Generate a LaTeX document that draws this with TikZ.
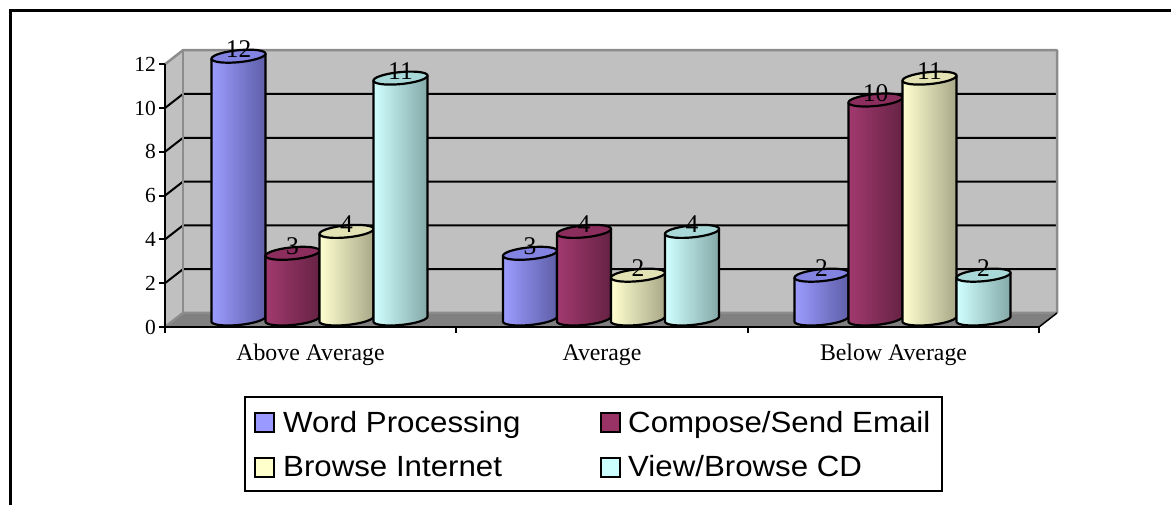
\documentclass[tikz,border=0pt]{standalone}
\usepackage{fontspec}
\setmainfont{Liberation Serif}
\newfontfamily\legendfont[FakeStretch=1.07]{Liberation Sans}
\definecolor{s1}{HTML}{9999FF}
\definecolor{s1L}{HTML}{9C9CFF}
\definecolor{s1R}{HTML}{5E5EA8}
\definecolor{s1T}{HTML}{8383E2}
\definecolor{s2}{HTML}{993366}
\definecolor{s2L}{HTML}{A23A6F}
\definecolor{s2R}{HTML}{662244}
\definecolor{s2T}{HTML}{8C2E5D}
\definecolor{s3}{HTML}{FFFFCC}
\definecolor{s3L}{HTML}{FFFFD0}
\definecolor{s3R}{HTML}{A8A888}
\definecolor{s3T}{HTML}{E2E2B4}
\definecolor{s4}{HTML}{CCFFFF}
\definecolor{s4L}{HTML}{D0FFFF}
\definecolor{s4R}{HTML}{84A8A8}
\definecolor{s4T}{HTML}{A8D8D8}
\definecolor{wallc}{HTML}{C0C0C0}
\definecolor{floorc}{HTML}{808080}
\definecolor{borderc}{HTML}{8C8C8C}
\tikzset{
  barline/.style={draw=black, line width=2.2pt, line join=round},
  gridline/.style={draw=black, line width=2pt},
  wallborder/.style={draw=borderc, line width=2.5pt, line join=round},
  axisline/.style={draw=black, line width=2pt},
  ticklabel/.style={anchor=east, inner sep=0pt, font=\fontsize{21.5}{24}\selectfont},
  catlabel/.style={anchor=base, inner sep=0pt, font=\fontsize{23.8}{28}\selectfont},
  vallabel/.style={anchor=base, inner sep=0pt, font=\fontsize{25.5}{28}\selectfont},
  legtext/.style={anchor=base west, inner sep=0pt, font=\legendfont\fontsize{29.2}{32}\selectfont},
  swatch/.style={draw=black, line width=2pt},
}
% #1 centre x, #2 value, #3 series colour prefix, #4 node name
\newcommand\cylbar[4]{%
  \pgfmathsetmacro\yt{319-#2*21.9}%
  \fill[left color=#3L, right color=#3R] (#1+27,\yt-2.5) -- (#1+27,316.5)
     -- plot[domain=0:180,samples=37,smooth,variable=\t] ({#1+27*cos(\t)},{319-2.5*cos(\t)+6*sin(\t)})
     -- (#1-27,\yt+2.5) -- cycle;
  \draw[barline] (#1+27,\yt-2.5) -- (#1+27,316.5)
     -- plot[domain=0:180,samples=37,smooth,variable=\t] ({#1+27*cos(\t)},{319-2.5*cos(\t)+6*sin(\t)})
     -- (#1-27,\yt+2.5);
  \filldraw[barline, fill=#3T] plot[domain=0:355,samples=72,smooth cycle,variable=\t] ({#1+27*cos(\t)},{\yt-2.5*cos(\t)+6*sin(\t)});
  \node[vallabel] (#4) at (#1,\yt+1.5) {#2};
}
\begin{document}
\begin{tikzpicture}[x=1pt,y=-1pt]
\useasboundingbox (0,0) rectangle (1171,505);
% outer frame
\draw[line width=3pt] (10,505) -- (10,11) -- (1170.5,11);
% walls
\fill[wallc] (183,50.2) rectangle (1057,313);
\fill[wallc] (165,64.2) -- (183,50.2) -- (183,313) -- (165,327) -- cycle;
% gridlines
\foreach \v in {2,4,...,10} {
  \draw[gridline] (165,{327-\v*21.9}) -- (183,{313-\v*21.9}) -- (1057,{313-\v*21.9});
}
% floor
\fill[floorc] (165,327) -- (183,313) -- (1057,313) -- (1039,327) -- cycle;
% wall borders
\draw[wallborder] (165,64.2) -- (183,50.2) -- (1057,50.2) -- (1057,313);
\draw[wallborder] (183,50.2) -- (183,313);
\draw[wallborder] (165,327) -- (183,313) -- (1057,313);
\draw[draw=black, line width=1.5pt] (1039,327) -- (1057,313);
% axes
\draw[axisline] (165,64.2) -- (165,327) -- (1039,327);
\foreach \v in {0,2,...,12} {
  \draw[axisline] (159,{327-\v*21.9}) -- (165,{327-\v*21.9});
  \node[ticklabel] (tick\v) at (156,{327-\v*21.9}) {\v};
}
\foreach \xx in {165,456.3,747.7,1039} {
  \draw[axisline] (\xx,327) -- (\xx,333);
}
% category labels
\node[catlabel] (catA) at (310.5,360) {Above Average};
\node[catlabel] (catB) at (602,360) {Average};
\node[catlabel] (catC) at (893.5,360) {Below Average};
% bars: Above Average
\cylbar{238.5}{12}{s1}{a1}
\cylbar{292.5}{3}{s2}{a2}
\cylbar{346.5}{4}{s3}{a3}
\cylbar{400.5}{11}{s4}{a4}
% Average
\cylbar{530}{3}{s1}{b1}
\cylbar{584}{4}{s2}{b2}
\cylbar{638}{2}{s3}{b3}
\cylbar{692}{4}{s4}{b4}
% Below Average
\cylbar{821.5}{2}{s1}{c1}
\cylbar{875.5}{10}{s2}{c2}
\cylbar{929.5}{11}{s3}{c3}
\cylbar{983.5}{2}{s4}{c4}
% legend
\draw[line width=2pt] (245,397) rectangle (942,491);
\filldraw[swatch, fill=s1] (255,413) rectangle (274,432);
\filldraw[swatch, fill=s2] (600.5,413) rectangle (619.5,432);
\filldraw[swatch, fill=s3] (255,457.5) rectangle (274,476.5);
\filldraw[swatch, fill=s4] (600.5,457.5) rectangle (619.5,476.5);
\node[legtext] (l1) at (283,432) {Word Processing};
\node[legtext] (l2) at (628,432) {Compose/Send Email};
\node[legtext] (l3) at (283,476) {Browse Internet};
\node[legtext] (l4) at (628,476) {View/Browse CD};
\end{tikzpicture}
\end{document}
